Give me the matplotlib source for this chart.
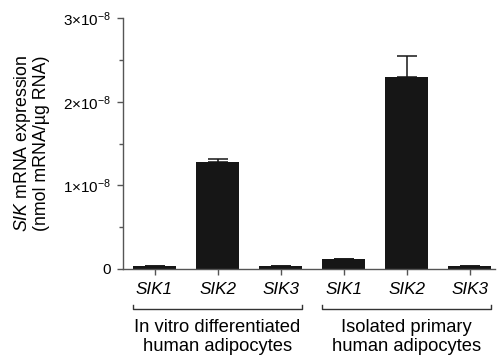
import numpy as np
import matplotlib
matplotlib.use('Agg')
import matplotlib.pyplot as plt
import matplotlib.transforms as mtransforms

plt.rcParams['font.family'] = ['Liberation Sans', 'DejaVu Sans']
plt.rcParams['mathtext.fontset'] = 'custom'
plt.rcParams['mathtext.rm'] = 'Liberation Sans'
plt.rcParams['mathtext.it'] = 'Liberation Sans:italic'

# data (nmol mRNA / ug RNA)
genes = ['SIK1', 'SIK2', 'SIK3', 'SIK1', 'SIK2', 'SIK3']
expr = [0.03e-8, 1.28e-8, 0.03e-8, 0.12e-8, 2.29e-8, 0.03e-8]
err = [0.0, 0.04e-8, 0.0, 0.0, 0.26e-8, 0.0]
groups = ['In vitro differentiated\nhuman adipocytes', 'Isolated primary\nhuman adipocytes']
yticks = [0, 1e-8, 2e-8, 3e-8]
ytick_labels = ['0', r'1$\times$10$^{-8}$', r'2$\times$10$^{-8}$', r'3$\times$10$^{-8}$']

fig = plt.figure(figsize=(4.99, 3.59), dpi=100)
ax = fig.add_axes([0.2465, 0.2507, 0.745, 0.699])

x = np.arange(len(genes))
ax.bar(x, expr, width=0.67, color='#161616', zorder=2)
ax.errorbar(x, expr, yerr=[np.zeros(len(err)), err], fmt='none', ecolor='#161616',
            elinewidth=1.1, capsize=7.5, capthick=1.1, zorder=1)

ax.set_xlim(-0.5, 5.4)
ax.set_ylim(0, 3e-8)
ax.set_yticks(yticks)
ax.set_yticklabels(ytick_labels, fontsize=11)
ax.set_yticks([0.5e-8, 1.5e-8, 2.5e-8], minor=True)
ax.set_xticks(x)
ax.set_xticklabels(genes, fontsize=12.3, fontstyle='italic')

for s in ['top', 'right']:
    ax.spines[s].set_visible(False)
for s in ['left', 'bottom']:
    ax.spines[s].set_color('#555555')
    ax.spines[s].set_linewidth(1.0)
ax.tick_params(axis='both', which='major', color='#555555', length=4.5, width=1.0, pad=4)
ax.tick_params(axis='y', which='minor', color='#555555', length=3, width=1.0)
ax.tick_params(axis='x', pad=5)

ax.set_ylabel('$\\it{SIK}$ mRNA expression\n(nmol mRNA/\u00b5g RNA)', fontsize=12.8, labelpad=9,
              linespacing=1.05)

# group brackets under the tick labels
trans = mtransforms.blended_transform_factory(ax.transData, ax.transAxes)
yb = -0.16
for i, g in enumerate(groups):
    x0 = 3 * i - 0.34
    x1 = 3 * i + 2 + 0.34
    ax.plot([x0, x0, x1, x1], [yb + 0.015, yb, yb, yb + 0.015], color='#333333',
            lw=1.0, transform=trans, clip_on=False)
    ax.text((x0 + x1) / 2, yb - 0.04, g, transform=trans, ha='center', va='top',
            fontsize=13.2, linespacing=1.15)

fig.savefig('out.png', dpi=100)
